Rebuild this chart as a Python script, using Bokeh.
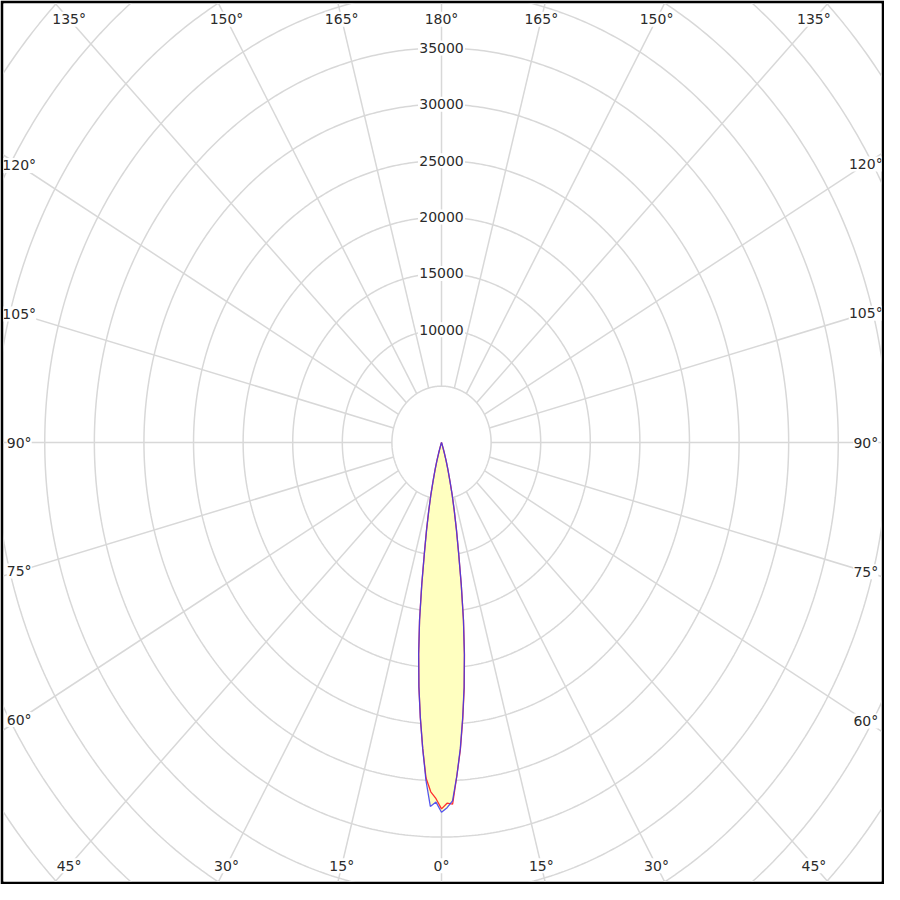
import numpy as np
from bokeh.plotting import figure
from bokeh.models import Range1d
from bokeh.embed import file_html
from bokeh.resources import INLINE
from bokeh.core.properties import value

# ---------------- data ----------------
gamma = [0, 1, 2, 3, 4, 5, 6, 7, 8, 9, 10, 11, 12, 13, 14, 15, 16, 17, 18, 19, 20]
blue_right = [32800, 32400, 31800, 29600, 27200, 24500, 21800, 18900, 15900, 12700, 9900,
              7900, 6200, 4800, 3500, 2500, 1700, 1000, 500, 200, 0]
blue_left = [32800, 31900, 32300, 30000, 27200, 24500, 21800, 18900, 15900, 12700, 9900,
             7900, 6200, 4800, 3500, 2500, 1700, 1000, 500, 200, 0]
red_right = [32500, 32000, 32100, 29600, 27300, 24600, 21900, 19000, 15900, 12700, 9900,
             7900, 6200, 4800, 3500, 2500, 1700, 1000, 500, 200, 0]
red_left = [32500, 31600, 31000, 29800, 27200, 24500, 21800, 18900, 15900, 12700, 9900,
            7900, 6200, 4800, 3500, 2500, 1700, 1000, 500, 200, 0]

ring_values = [5000, 10000, 15000, 20000, 25000, 30000, 35000, 40000, 45000, 50000, 55000, 60000]
ring_labels = [10000, 15000, 20000, 25000, 30000, 35000]
spoke_angles = list(range(0, 360, 15))
angle_labels = [0, 15, 30, 45, 60, 75, 90, 105, 120, 135, 150, 165, 180]

# ---------------- figure ----------------
X0, X1 = -44160, 44360
Y0, Y1 = -38940, 38940
p = figure(width=884, height=884, output_backend="svg", toolbar_location=None,
           x_range=Range1d(X0, X1), y_range=Range1d(Y0, Y1),
           x_axis_type=None, y_axis_type=None,
           min_border_left=3, min_border_right=3, min_border_top=3, min_border_bottom=3,
           border_fill_color="black", background_fill_color="white",
           outline_line_color=None)
p.grid.visible = False

GRID = "#d8d8d8"
# rings
t = np.linspace(0, 2 * np.pi, 721)
p.multi_line([list(r * np.cos(t)) for r in ring_values],
             [list(r * np.sin(t)) for r in ring_values],
             line_color=GRID, line_width=1.5)
# spokes (from inner ring outward), angle measured from downward direction
r_in, r_out = ring_values[0], 90000
xs, ys = [], []
for a in spoke_angles:
    ar = np.radians(a)
    xs.append([r_in * np.sin(ar), r_out * np.sin(ar)])
    ys.append([-r_in * np.cos(ar), -r_out * np.cos(ar)])
p.multi_line(xs, ys, line_color=GRID, line_width=1.5)

# ---------------- curves ----------------
g = np.radians(np.array(gamma, dtype=float))


def half(vals, side):
    v = np.array(vals, dtype=float)
    return side * v * np.sin(g), -v * np.cos(g)


blx, bly = half(blue_left, -1)
brx, bry = half(blue_right, 1)
rlx, rly = half(red_left, -1)
rrx, rry = half(red_right, 1)

fx = list(blx[::-1]) + list(brx)
fy = list(bly[::-1]) + list(bry)
p.patch(fx, fy, fill_color="#ffffc0", line_color=None)

p.line(list(rlx[::-1]) + list(rrx), list(rly[::-1]) + list(rry),
       line_color="#ff3030", line_width=1.3)
p.line(fx, fy, line_color="#3a3af0", line_width=1.3, line_alpha=0.85)

# ---------------- labels ----------------
FONT = value("DejaVu Sans")
TXT = "#2b2b2b"

ix = 16 / (878 / (X1 - X0)) * 0.982
iy = 16 / (878 / (Y1 - Y0)) * 0.982
bx0, bx1, by0, by1 = X0 + ix, X1 - ix, Y0 + iy, Y1 - iy
lx, ly, lt = [], [], []
for a in angle_labels:
    sides = [1] if a in (0, 180) else [-1, 1]
    for s in sides:
        ar = np.radians(a)
        dx, dy = s * np.sin(ar), -np.cos(ar)
        cands = []
        if dx > 1e-9:
            cands.append(bx1 / dx)
        if dx < -1e-9:
            cands.append(bx0 / dx)
        if dy > 1e-9:
            cands.append(by1 / dy)
        if dy < -1e-9:
            cands.append(by0 / dy)
        tt = min(cands)
        lx.append(tt * dx)
        ly.append(tt * dy)
        lt.append(f"{a}°")

# white boxes behind the labels (hide grid lines under text)
rx = [0] * len(ring_labels) + lx
ry = list(ring_labels) + ly
rw = [9 * len(str(v)) + 2 for v in ring_labels] + [9 * (len(s) - 1) + 7 for s in lt]
p.rect(x=rx, y=ry, width=rw, height=[15] * len(rx),
       width_units="screen", height_units="screen",
       fill_color="white", line_color=None)

p.text(x=[0] * len(ring_labels), y=ring_labels, text=[str(v) for v in ring_labels],
       text_font=FONT, text_font_size="14px", text_color=TXT,
       text_align="center", text_baseline="middle")

p.text(x=lx, y=ly, text=lt, text_font=FONT, text_font_size="14px", text_color=TXT,
       text_align="center", text_baseline="middle")

open("out.html", "w").write(file_html(p, INLINE))
